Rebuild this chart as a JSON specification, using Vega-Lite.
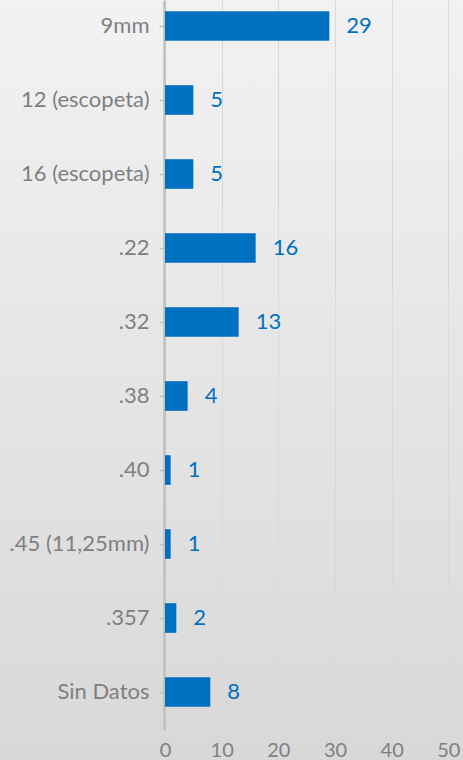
{
  "$schema": "https://vega.github.io/schema/vega-lite/v6.json",
  "width": 463,
  "height": 760,
  "padding": 0,
  "autosize": {"type": "none"},
  "background": "#d9d9d9",
  "data": {
    "values": [
      {"cat": "9mm", "n": 29},
      {"cat": "12 (escopeta)", "n": 5},
      {"cat": "16 (escopeta)", "n": 5},
      {"cat": ".22", "n": 16},
      {"cat": ".32", "n": 13},
      {"cat": ".38", "n": 4},
      {"cat": ".40", "n": 1},
      {"cat": ".45 (11,25mm)", "n": 1},
      {"cat": ".357", "n": 2},
      {"cat": "Sin Datos", "n": 8}
    ]
  },
  "config": {
    "font": "Lato",
    "view": {
      "stroke": null,
      "fill": {
        "gradient": "linear",
        "x1": 0, "y1": 0, "x2": 0, "y2": 1,
        "stops": [
          {"offset": 0, "color": "#f2f2f2"},
          {"offset": 1, "color": "#d8d8d8"}
        ]
      }
    }
  },
  "encoding": {
    "y": {
      "field": "cat",
      "type": "nominal",
      "sort": null,
      "scale": {"range": [0, 730], "paddingInner": 0.6, "paddingOuter": 0.2324, "align": 0.326},
      "axis": {
        "title": null,
        "offset": -164,
        "domainColor": "#bfbfbf",
        "domainWidth": 2.5,
        "tickColor": "#bfbfbf",
        "tickSize": 5,
        "tickWidth": 1.5,
        "labelPadding": 10,
        "labelColor": "#808080",
        "labelFontSize": 22,
        "labelFont": "Lato",
        "grid": false
      }
    }
  },
  "layer": [
    {
      "mark": {"type": "bar", "color": "#0070C0"},
      "encoding": {
        "x": {
          "field": "n",
          "type": "quantitative",
          "scale": {"domain": [0, 50], "range": [165, 448.3], "nice": false, "zero": true},
          "axis": {
            "orient": "top",
            "title": null,
            "values": [0, 10, 20, 30, 40, 50],
            "grid": true,
            "gridColor": "#d9d9d9",
            "gridWidth": 1,
            "domain": false,
            "ticks": false,
            "labelFlush": false,
            "labelOverlap": false,
            "labelColor": "#808080",
            "labelFontSize": 20,
            "labelFont": "Lato",
            "labelPadding": 0,
            "offset": -760
          }
        }
      }
    },
    {
      "mark": {"type": "text", "align": "left", "baseline": "middle", "dx": 17, "color": "#0070C0", "fontSize": 22, "font": "Lato"},
      "encoding": {
        "x": {"field": "n", "type": "quantitative"},
        "text": {"field": "n", "type": "quantitative"}
      }
    }
  ]
}
